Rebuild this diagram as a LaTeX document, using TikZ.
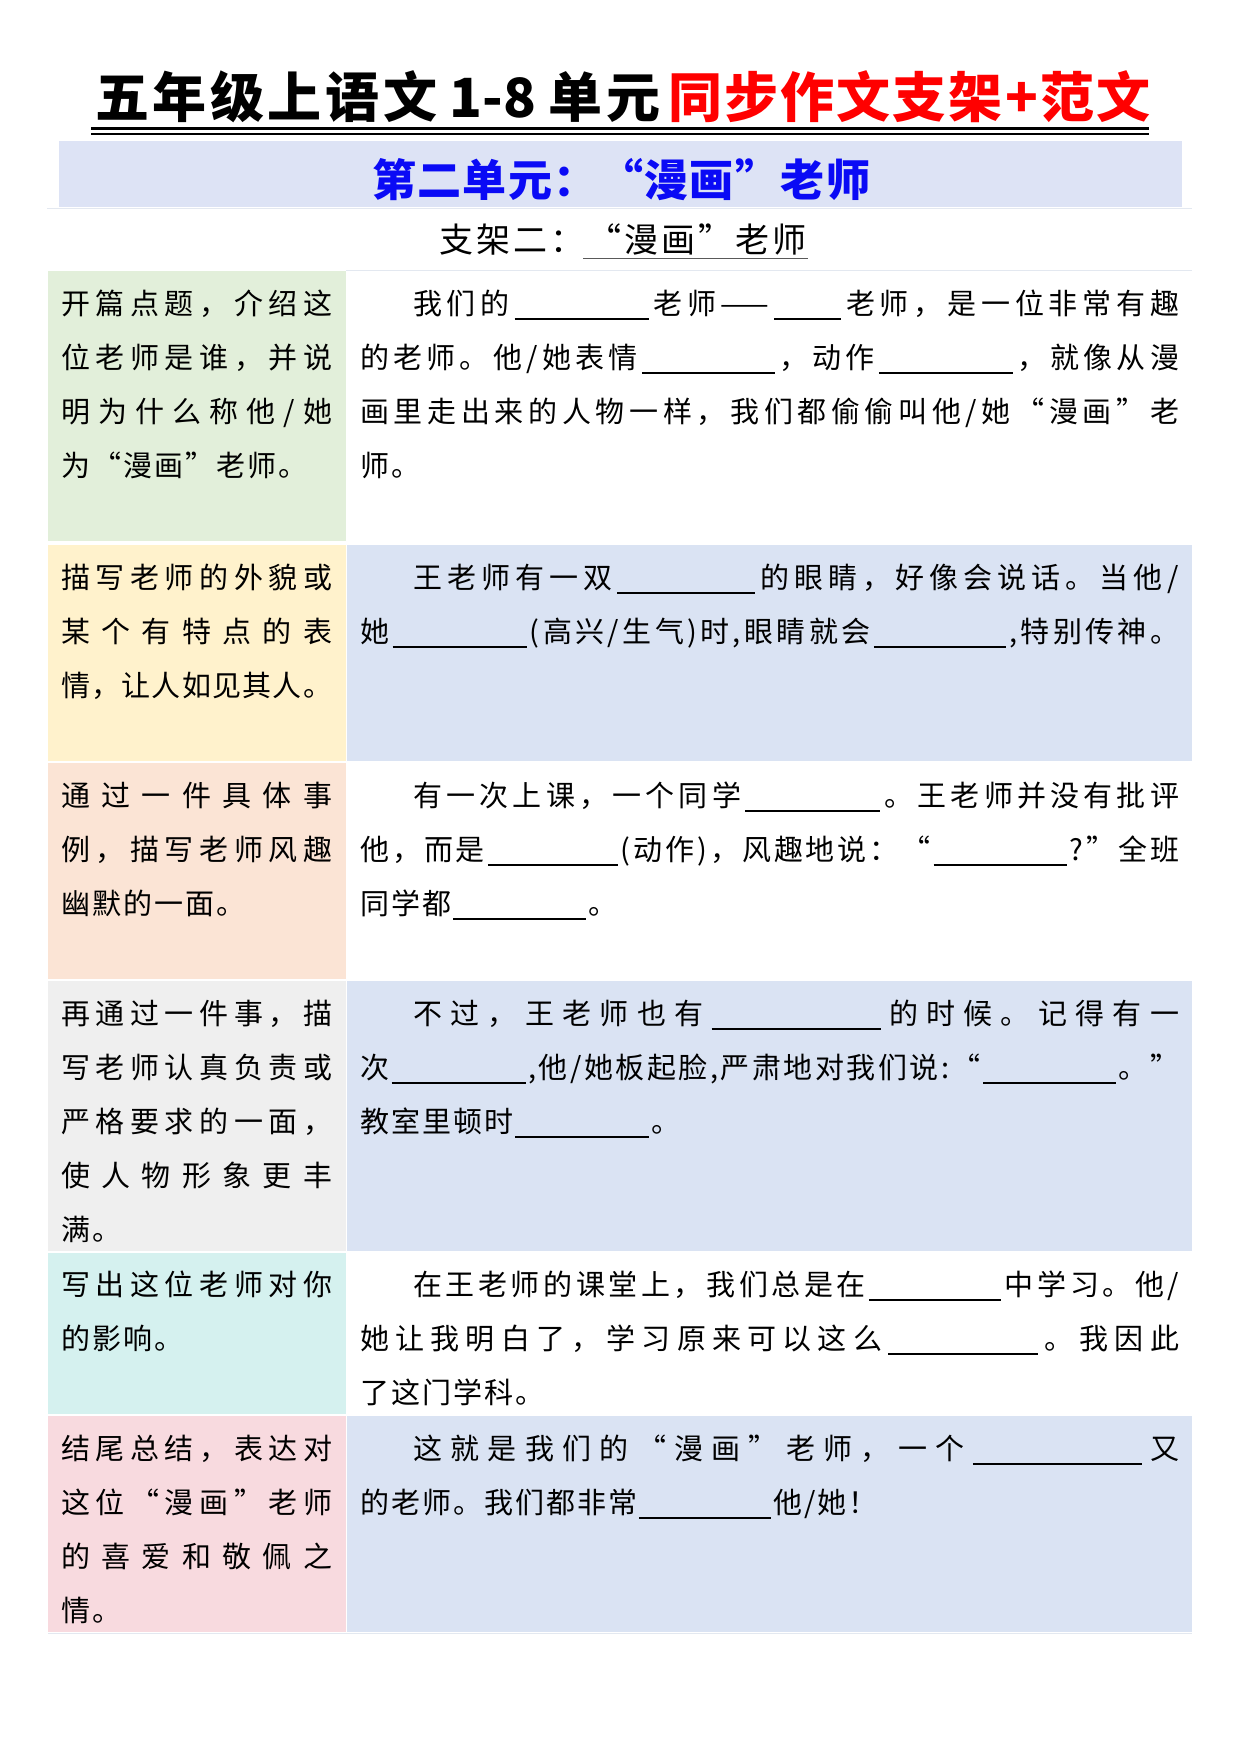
\documentclass[tikz,border=0pt]{standalone}
\usepackage{fontspec}
\setmainfont{Noto Sans CJK SC}
\usepackage{tikz}
\definecolor{cellgreen}{HTML}{E2EFDA}
\definecolor{cellyellow}{HTML}{FFF2CC}
\definecolor{cellpeach}{HTML}{FBE4D5}
\definecolor{cellgray}{HTML}{EFEFEF}
\definecolor{cellcyan}{HTML}{D5F1EF}
\definecolor{cellpink}{HTML}{F8DADF}
\definecolor{cellblue}{HTML}{DAE3F3}
\definecolor{bandblue}{HTML}{DDE3F5}
\definecolor{unitblue}{HTML}{0A0AF5}
\definecolor{rulegray}{HTML}{E3E8F0}
\tikzset{cell/.style={anchor=base west, inner sep=0pt, font=\fontsize{29}{29}\selectfont}}
\newcommand\blank[1]{\rule[-5.5pt]{#1pt}{1.4pt}}
\def\spreadtok#1{\ifx\relax#1\else#1\sep\expandafter\spreadtok\fi}
\newcommand\fillline[2]{\hbox to #1pt{\let\sep\hfill\spreadtok#2\relax\unskip}}
\newcommand\plainline[1]{\hbox{\def\sep{\hskip2pt\relax}\spreadtok#1\relax\unskip}}

\begin{document}
\begin{tikzpicture}[x=1pt,y=-1pt]
            \useasboundingbox (0,0) rectangle (1240,1754);
            \node[anchor=base west, inner sep=0pt, font=\fontsize{54}{54}\selectfont\bfseries] (title) at (95,117) {\fillline{565}{五年级上语文{\,1-8\,}单元}};
            \node[anchor=base west, inner sep=0pt, font=\fontsize{54}{54}\selectfont\bfseries, text=red] (titlered) at (668,117) {\fillline{482}{同步作文支架+范文}};
            \draw[line width=3.3pt] (91,128.3) -- (1149,128.3);
            \draw[line width=2pt] (91,133.7) -- (1149,133.7);
            \fill[bandblue] (59,141) rectangle (1182,207);
            \node[anchor=base west, inner sep=0pt, font=\fontsize{44}{44}\selectfont\bfseries, text=unitblue] (unit) at (372,196) {\fillline{498}{第二单元：“漫画”老师}};
            \draw[rulegray, line width=1pt] (47,208.5) -- (1192,208.5);
            \node[anchor=base west, inner sep=0pt, font=\fontsize{34}{34}\selectfont] (frame) at (439,252) {\fillline{367}{支架二：“漫画”老师}};
            \draw[black!65, line width=1.8pt] (583,258.5) -- (808,258.5);
            \draw[rulegray, line width=1pt] (346,270) -- (1192,270);

            \fill[cellgreen] (48,271) rectangle (346,541);
            \fill[cellyellow] (48,545) rectangle (346,761);
            \fill[cellblue] (347,545) rectangle (1192,761);
            \fill[cellpeach] (48,763) rectangle (346,979);
            \fill[cellgray] (48,981) rectangle (346,1251);
            \fill[cellblue] (347,981) rectangle (1192,1251);
            \fill[cellcyan] (48,1253) rectangle (346,1414);
            \fill[cellpink] (48,1416) rectangle (346,1632);
            \fill[cellblue] (347,1416) rectangle (1192,1632);
            \draw[rulegray, line width=1pt] (48,1633.5) -- (1192,1633.5);

            \node[cell] (la1) at (61,314) {\fillline{271}{开篇点题，介绍这}};
            \node[cell] (la2) at (61,368) {\fillline{271}{位老师是谁，并说}};
            \node[cell] (la3) at (61,422) {\fillline{271}{明为什么称他/她}};
            \node[cell] (la4) at (61,476) {\plainline{为“漫画”老师。}};
            \node[cell] (ra1) at (413,314) {\fillline{766}{我们的{\blank{134}}老师{——}{\blank{67}}老师，是一位非常有趣}};
            \node[cell] (ra2) at (360,368) {\fillline{819}{的老师。他/她表情{\blank{133}}，动作{\blank{134}}，就像从漫}};
            \node[cell] (ra3) at (360,422) {\fillline{819}{画里走出来的人物一样，我们都偷偷叫他/她“漫画”老}};
            \node[cell] (ra4) at (360,476) {\plainline{师。}};

            \node[cell] (lb1) at (61,588) {\fillline{271}{描写老师的外貌或}};
            \node[cell] (lb2) at (61,642) {\fillline{271}{某个有特点的表}};
            \node[cell] (lb3) at (61,696) {\fillline{271}{情，让人如见其人。}};
            \node[cell] (rb1) at (413,588) {\fillline{766}{王老师有一双{\blank{138}}的眼睛，好像会说话。当他/}};
            \node[cell] (rb2) at (360,642) {\fillline{819}{她{\blank{134}}(高兴/生气)时,眼睛就会{\blank{132}},特别传神。}};

            \node[cell] (lc1) at (61,806) {\fillline{271}{通过一件具体事}};
            \node[cell] (lc2) at (61,860) {\fillline{271}{例，描写老师风趣}};
            \node[cell] (lc3) at (61,914) {\plainline{幽默的一面。}};
            \node[cell] (rc1) at (413,806) {\fillline{766}{有一次上课，一个同学{\blank{135}}。王老师并没有批评}};
            \node[cell] (rc2) at (360,860) {\fillline{819}{他，而是{\blank{130}}(动作)，风趣地说：“{\blank{133}}?”全班}};
            \node[cell] (rc3) at (360,914) {\plainline{同学都{\blank{133}}。}};

            \node[cell] (ld1) at (61,1024) {\fillline{271}{再通过一件事，描}};
            \node[cell] (ld2) at (61,1078) {\fillline{271}{写老师认真负责或}};
            \node[cell] (ld3) at (61,1132) {\fillline{271}{严格要求的一面，}};
            \node[cell] (ld4) at (61,1186) {\fillline{271}{使人物形象更丰}};
            \node[cell] (ld5) at (61,1240) {\plainline{满。}};
            \node[cell] (rd1) at (413,1024) {\fillline{766}{不过，王老师也有{\blank{169}}的时候。记得有一}};
            \node[cell] (rd2) at (360,1078) {\fillline{819}{次{\blank{134}},他/她板起脸,严肃地对我们说:“{\blank{133}}。”}};
            \node[cell] (rd3) at (360,1132) {\plainline{教室里顿时{\blank{134}}。}};

            \node[cell] (le1) at (61,1295) {\fillline{271}{写出这位老师对你}};
            \node[cell] (le2) at (61,1349) {\plainline{的影响。}};
            \node[cell] (re1) at (413,1295) {\fillline{766}{在王老师的课堂上，我们总是在{\blank{132}}中学习。他/}};
            \node[cell] (re2) at (360,1349) {\fillline{819}{她让我明白了，学习原来可以这么{\blank{150}}。我因此}};
            \node[cell] (re3) at (360,1403) {\plainline{了这门学科。}};

            \node[cell] (lf1) at (61,1459) {\fillline{271}{结尾总结，表达对}};
            \node[cell] (lf2) at (61,1513) {\fillline{271}{这位“漫画”老师}};
            \node[cell] (lf3) at (61,1567) {\fillline{271}{的喜爱和敬佩之}};
            \node[cell] (lf4) at (61,1621) {\plainline{情。}};
            \node[cell] (rf1) at (413,1459) {\fillline{766}{这就是我们的“漫画”老师，一个{\blank{169}}又}};
            \node[cell] (rf2) at (360,1513) {\plainline{的老师。我们都非常{\blank{132}}他/她！}};
\end{tikzpicture}
\end{document}
